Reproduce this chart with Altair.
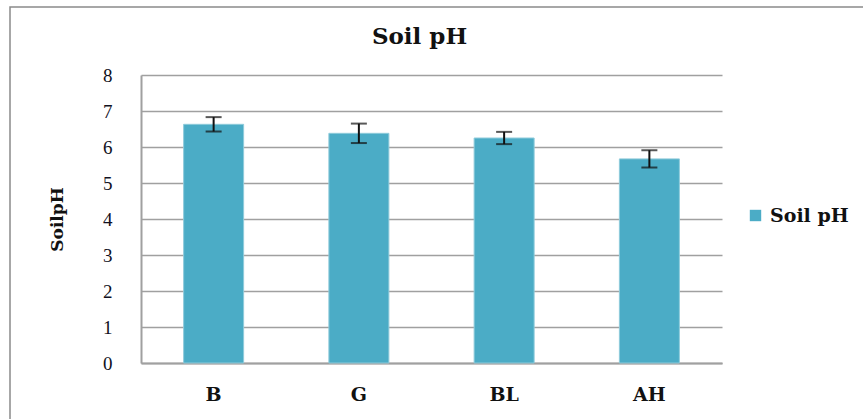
import altair as alt
import pandas as pd

sites = ["B", "G", "BL", "AH"]
ph_mean = [6.63, 6.38, 6.25, 5.67]
ph_err = [0.20, 0.27, 0.17, 0.24]
y_ticks = [0, 1, 2, 3, 4, 5, 6, 7, 8]
series_name = "Soil pH"

df = pd.DataFrame({
    "site": sites,
    "ph": ph_mean,
    "lo": [m - e for m, e in zip(ph_mean, ph_err)],
    "hi": [m + e for m, e in zip(ph_mean, ph_err)],
    "series": [series_name] * len(sites),
})

x_axis = alt.Axis(
    title=None,
    labelAngle=0,
    labelFont="DejaVu Serif",
    labelFontWeight="bold",
    labelFontSize=19,
    labelColor="#111111",
    labelPadding=22,
    ticks=False,
    domainColor="#a0a0a0",
    domainWidth=2,
    grid=False,
)
x_scale = alt.Scale(paddingInner=0, paddingOuter=0)

y_axis = alt.Axis(
    title="SoilpH",
    values=y_ticks,
    tickCount=20,
    format="d",
    labelOverlap=False,
    labelFont="Liberation Serif",
    labelFontSize=19,
    labelColor="#111122",
    labelPadding=29,
    ticks=False,
    domainColor="#a0a0a0",
    domainWidth=2,
    grid=True,
    gridColor="#a0a0a0",
    gridWidth=1.5,
    titleFont="DejaVu Serif",
    titleFontWeight="bold",
    titleFontSize=17,
    titleColor="#111111",
    titleAngle=-90,
    titleX=-84,
    titleY=144,
    titleAlign="center",
    titleBaseline="middle",
)
y_scale = alt.Scale(domain=[0, 8], nice=False)

bars = alt.Chart(df).mark_bar(size=60, stroke="#8fcbdb", strokeWidth=1).encode(
    x=alt.X("site:N", sort=sites, scale=x_scale, axis=x_axis),
    y=alt.Y("ph:Q", scale=y_scale, axis=y_axis),
    color=alt.Color(
        "series:N",
        scale=alt.Scale(domain=[series_name], range=["#4BACC6"]),
        legend=alt.Legend(
            title=None,
            orient="none",
            legendX=605,
            legendY=131,
            symbolType="square",
            symbolSize=130,
            symbolStrokeWidth=0,
            labelFont="DejaVu Serif",
            labelFontWeight="bold",
            labelFontSize=19,
            labelColor="#111111",
            labelOffset=5,
        ),
    ),
)

err_rule = alt.Chart(df).mark_rule(color="#111111", strokeWidth=2).encode(
    x=alt.X("site:N", sort=sites, scale=x_scale, axis=x_axis),
    y=alt.Y("lo:Q", scale=y_scale, axis=y_axis),
    y2="hi:Q",
)

cap_lo = alt.Chart(df).mark_tick(color="#111111", size=16, thickness=2, orient="horizontal").encode(
    x=alt.X("site:N", sort=sites, scale=x_scale, axis=x_axis),
    y=alt.Y("lo:Q", scale=y_scale, axis=y_axis),
)
cap_hi = alt.Chart(df).mark_tick(color="#111111", size=16, thickness=2, orient="horizontal").encode(
    x=alt.X("site:N", sort=sites, scale=x_scale, axis=x_axis),
    y=alt.Y("hi:Q", scale=y_scale, axis=y_axis),
)

frame = alt.Chart(pd.DataFrame({"k": [0]})).mark_rect(
    filled=False, stroke="#8a8a8a", strokeWidth=1.5
).encode(
    x=alt.value(-131), x2=alt.value(900), y=alt.value(-68), y2=alt.value(500)
)

chart = alt.layer(frame, bars, err_rule, cap_lo, cap_hi).properties(
    width=581,
    height=288,
    autosize=alt.AutoSizeParams(type="none"),
    padding={"left": 141, "top": 75, "right": 141, "bottom": 56},
    background="white",
    title=alt.TitleParams(
        text="Soil pH",
        font="DejaVu Serif",
        fontWeight="bold",
        fontSize=23,
        color="#111111",
        anchor="middle",
        dx=-12,
        offset=0,
        dy=43,
    ),
).configure_view(stroke=None)

chart.save("out.html", embed_options={"renderer": "svg", "actions": False})
